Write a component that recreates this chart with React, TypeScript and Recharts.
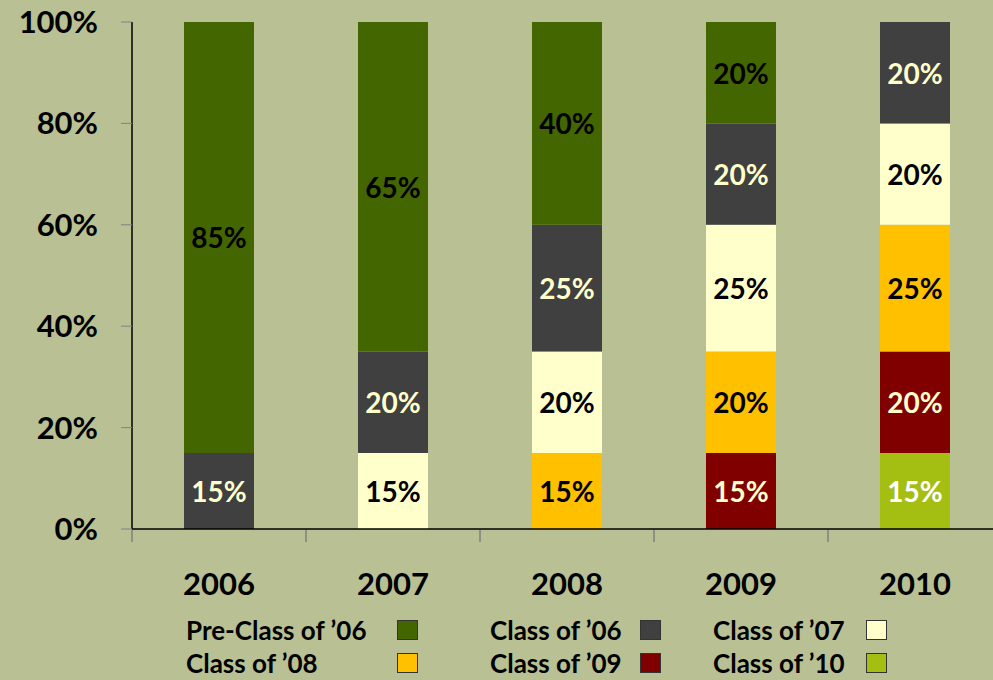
import { Bar, BarChart, LabelList, Legend, XAxis, YAxis } from "recharts"

const years = ["2006", "2007", "2008", "2009", "2010"]
const preClass06 = [85, 65, 40, 20, 0]
const class06 = [15, 20, 25, 20, 20]
const class07 = [0, 15, 20, 25, 20]
const class08 = [0, 0, 15, 20, 25]
const class09 = [0, 0, 0, 15, 20]
const class10 = [0, 0, 0, 0, 15]
const yTicks = [0, 20, 40, 60, 80, 100]
const edgeTicks = [0, 1, 2, 3, 4, 5]

const FONT = "Lato, 'Open Sans', sans-serif"

// bottom of the stack first
const series = [
  { key: "c10", name: "Class of ’10", values: class10, color: "#A5BE12", text: "#FFFFFF" },
  { key: "c09", name: "Class of ’09", values: class09, color: "#800000", text: "#FFFFCC" },
  { key: "c08", name: "Class of ’08", values: class08, color: "#FFC000", text: "#000000" },
  { key: "c07", name: "Class of ’07", values: class07, color: "#FFFFCC", text: "#000000" },
  { key: "c06", name: "Class of ’06", values: class06, color: "#404040", text: "#FFFFCC" },
  { key: "pre", name: "Pre-Class of ’06", values: preClass06, color: "#436600", text: "#000000" },
]

const data = years.map((year, i) => {
  const row: Record<string, string | number> = { year }
  series.forEach((s) => { row[s.key] = s.values[i] })
  return row
})

// legend reads row by row, like the original slide
const legendOrder = ["pre", "c06", "c07", "c08", "c09", "c10"]
const legendCols = [
  { left: 186, textWidth: 211 },
  { left: 490, textWidth: 150 },
  { left: 713, textWidth: 153 },
]

function SegmentLabel(props: any, textColor: string) {
  const { x, y, width, height, value } = props
  if (!value) return null
  return (
    <text
      x={x + width / 2}
      y={y + height / 2}
      textAnchor="middle"
      dominantBaseline="central"
      fill={textColor}
      fontFamily={FONT}
      fontWeight={700}
      fontSize={28}
    >
      {`${value}%`}
    </text>
  )
}

function LegendBlock() {
  return (
    <div style={{ position: "relative", width: 993, height: 70, fontFamily: FONT, fontWeight: 700, fontSize: 26, color: "#000" }}>
      {legendOrder.map((k, i) => {
        const s = series.find((d) => d.key === k)!
        const col = legendCols[i % 3]
        const row = Math.floor(i / 3)
        return (
          <div key={k} style={{ position: "absolute", left: col.left, top: row * 33, display: "flex", alignItems: "center", height: 30 }}>
            <span style={{ width: col.textWidth, whiteSpace: "nowrap" }}>{s.name}</span>
            <span style={{ width: 19, height: 18, background: s.color, border: "1px solid #333" }} />
          </div>
        )
      })}
    </div>
  )
}

export default function App() {
  return (
    <div style={{ position: "absolute", left: 0, top: 0, width: 993, height: 680, overflow: "hidden", background: "#B8C094" }}>
      <BarChart width={1002} height={680} data={data} margin={{ top: 22, right: 0, left: 0, bottom: 149 }} barSize={70}>
        <YAxis
          type="number"
          domain={[0, 100]}
          ticks={yTicks}
          width={132}
          tickFormatter={(v) => `${v}%`}
          axisLine={{ stroke: "#000", strokeWidth: 1.5 }}
          tickLine={{ stroke: "#808080" }}
          tickSize={11}
          tickMargin={23}
          tick={{ fill: "#000", fontFamily: FONT, fontWeight: 700, fontSize: 31 }}
        />
        <XAxis
          dataKey="year"
          height={1}
          axisLine={{ stroke: "#000", strokeWidth: 1.5 }}
          tickLine={false}
          tickSize={0}
          tickMargin={44}
          tick={{ fill: "#000", fontFamily: FONT, fontWeight: 700, fontSize: 31 }}
        />
        {/* separators between the year groups */}
        <XAxis
          xAxisId="edge"
          dataKey={() => 0}
          type="number"
          domain={[0, 5]}
          allowDataOverflow
          ticks={edgeTicks}
          height={1}
          axisLine={false}
          tickLine={{ stroke: "#808080", strokeWidth: 1.5 }}
          tickSize={12}
          tickFormatter={() => ""}
        />
        {series.map((s) => (
          <Bar key={s.key} dataKey={s.key} name={s.name} stackId="a" fill={s.color} isAnimationActive={false}>
            <LabelList dataKey={s.key} content={(p: any) => SegmentLabel(p, s.text)} />
          </Bar>
        ))}
        <Legend
          layout="horizontal"
          verticalAlign="middle"
          align="center"
          wrapperStyle={{ top: 615, left: 0, width: 993 }}
          content={() => <LegendBlock />}
        />
      </BarChart>
    </div>
  )
}
